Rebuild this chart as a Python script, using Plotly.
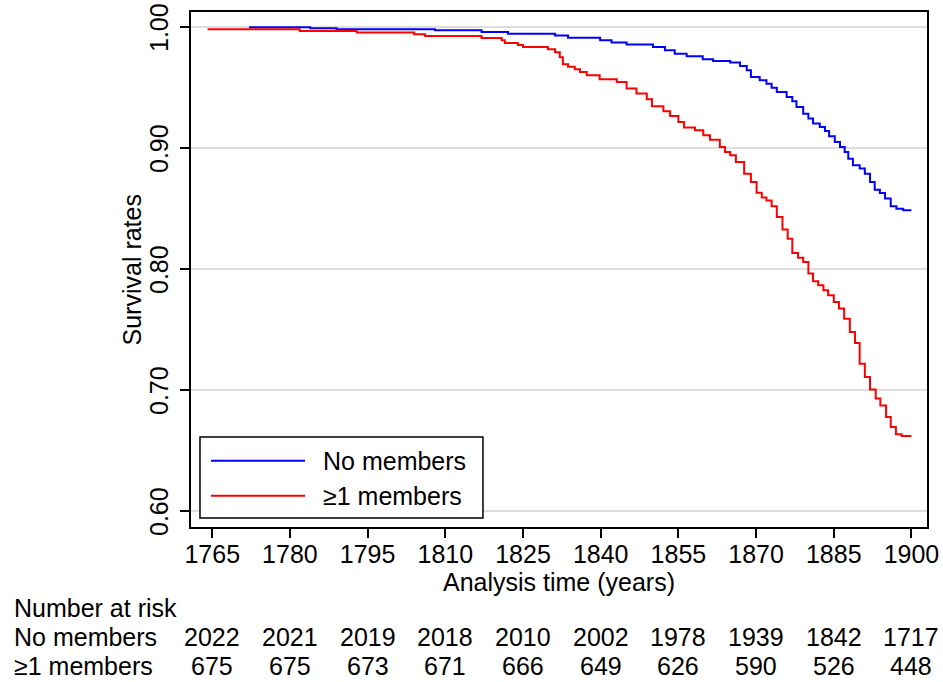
import plotly.graph_objects as go

# Kaplan-Meier steps (time, survival after the step)
NONE_TIME = [
    1772.1, 1783.9, 1789.0, 1808.0, 1817.0, 1822.1, 1831.2, 1833.7, 1839.9, 1842.1,
    1845.0, 1850.1, 1852.4, 1854.3, 1856.6, 1859.7, 1861.7, 1865.0, 1866.9, 1868.2,
    1869.0, 1870.7, 1872.0, 1873.0, 1874.0, 1875.9, 1877.0, 1877.8, 1879.1, 1880.1,
    1881.0, 1882.3, 1883.3, 1884.1, 1885.2, 1886.2, 1887.1, 1887.8, 1888.7, 1890.0,
    1891.0, 1892.0, 1892.9, 1893.9, 1894.9, 1896.0, 1897.1, 1898.4, 1900.0,
]
NONE_SURV = [
    0.9998, 0.9989, 0.9981, 0.9973, 0.9959, 0.9945, 0.9930, 0.9912, 0.9890, 0.9871,
    0.9855, 0.9835, 0.9807, 0.9780, 0.9758, 0.9733, 0.9719, 0.9706, 0.9678, 0.9642,
    0.9587, 0.9560, 0.9532, 0.9499, 0.9463, 0.9421, 0.9386, 0.9339, 0.9284, 0.9243,
    0.9202, 0.9174, 0.9140, 0.9097, 0.9050, 0.9008, 0.8967, 0.8912, 0.8857, 0.8830,
    0.8788, 0.8719, 0.8656, 0.8628, 0.8582, 0.8518, 0.8499, 0.8485, 0.8485,
]

ANY_TIME = [
    1764.1, 1781.9, 1792.9, 1804.0, 1806.1, 1817.0, 1820.9, 1821.5, 1824.0, 1825.0,
    1829.8, 1831.2, 1832.1, 1832.7, 1833.7, 1835.0, 1836.0, 1837.3, 1839.8, 1843.1,
    1845.0, 1846.9, 1848.9, 1849.9, 1852.1, 1853.4, 1855.0, 1856.1, 1858.2, 1859.8,
    1861.1, 1863.0, 1864.0, 1865.0, 1866.1, 1867.7, 1869.0, 1870.1, 1871.1, 1872.0,
    1873.0, 1874.0, 1875.1, 1876.1, 1877.0, 1878.1, 1879.1, 1880.1, 1881.0, 1882.0,
    1883.0, 1883.9, 1885.0, 1886.0, 1887.0, 1888.1, 1889.1, 1890.0, 1891.0, 1892.0,
    1893.1, 1894.0, 1895.1, 1896.0, 1897.0, 1898.1, 1900.0,
]
ANY_SURV = [
    0.9981, 0.9967, 0.9954, 0.9940, 0.9926, 0.9909, 0.9890, 0.9868, 0.9851, 0.9835,
    0.9816, 0.9791, 0.9750, 0.9692, 0.9671, 0.9650, 0.9628, 0.9601, 0.9568, 0.9545,
    0.9491, 0.9450, 0.9402, 0.9345, 0.9303, 0.9264, 0.9215, 0.9169, 0.9146, 0.9105,
    0.9069, 0.9008, 0.8967, 0.8940, 0.8884, 0.8788, 0.8719, 0.8630, 0.8590, 0.8567,
    0.8518, 0.8430, 0.8326, 0.8251, 0.8132, 0.8094, 0.8058, 0.7962, 0.7898, 0.7865,
    0.7824, 0.7783, 0.7727, 0.7673, 0.7590, 0.7479, 0.7388, 0.7218, 0.7107, 0.7005,
    0.6929, 0.6873, 0.6777, 0.6694, 0.6634, 0.6620, 0.6620,
]

# number-at-risk table
RISK_TIMES = [1765, 1780, 1795, 1810, 1825, 1840, 1855, 1870, 1885, 1900]
RISK_NONE = [2022, 2021, 2019, 2018, 2010, 2002, 1978, 1939, 1842, 1717]
RISK_ANY = [675, 675, 673, 671, 666, 649, 626, 590, 526, 448]

Y_TICKS = [0.6, 0.7, 0.8, 0.9, 1.0]
Y_LABELS = ["0.60", "0.70", "0.80", "0.90", "1.00"]

BLUE = "#0000FF"
RED = "#FF0000"
FONT = "Liberation Sans, Arial, sans-serif"
FS = 25

fig = go.Figure()
fig.add_trace(go.Scatter(x=NONE_TIME, y=NONE_SURV, mode="lines", line_shape="hv",
                         line=dict(color=BLUE, width=2), name="No members"))
fig.add_trace(go.Scatter(x=ANY_TIME, y=ANY_SURV, mode="lines", line_shape="hv",
                         line=dict(color=RED, width=2), name="≥1 members"))

fig.update_layout(
    width=943, height=682,
    margin=dict(l=191, r=16, t=12, b=155),
    plot_bgcolor="white", paper_bgcolor="white",
    font=dict(family=FONT, size=FS, color="black"),
    showlegend=False,
)
fig.update_xaxes(
    range=[1760.9, 1903.0], tickvals=RISK_TIMES, automargin=False,
    ticks="outside", ticklen=9, tickwidth=1.5, tickcolor="black", ticklabelstandoff=-5,
    showline=True, linecolor="black", linewidth=2, mirror=True,
    showgrid=False, zeroline=False,
    title=dict(text="Analysis time (years)", standoff=0, font=dict(size=FS)),
)
fig.update_yaxes(
    range=[0.5868, 1.0124], tickvals=Y_TICKS, showticklabels=False, automargin=False,
    ticks="outside", ticklen=9, tickwidth=1.5, tickcolor="black",
    showline=True, linecolor="black", linewidth=2, mirror=True,
    showgrid=True, gridcolor="#dedede", gridwidth=2, zeroline=False,
)

# vertical y tick labels as annotations (plotly pushes the top one off the page)
for v, lab in zip(Y_TICKS, Y_LABELS):
    fig.add_annotation(x=-0.0435, y=v, xref="paper", yref="y", text=lab, textangle=-90,
                       showarrow=False, xanchor="center", yanchor="middle")

# y title placed by hand, a bit closer to the tick labels than plotly's default
fig.add_annotation(x=-0.0802, y=0.5, xref="paper", yref="paper", text="Survival rates",
                   textangle=-90, showarrow=False, xanchor="center", yanchor="middle")

# legend drawn by hand so the line samples are long like the original
fig.add_shape(type="rect", xref="paper", yref="paper", x0=0.0122, x1=0.3967, y0=0.0175, y1=0.1748,
              line=dict(color="black", width=1.5), fillcolor="white", layer="above")
for yy, col, lab in [(0.1287, BLUE, "No members"), (0.0608, RED, "≥1 members")]:
    fig.add_shape(type="line", xref="paper", yref="paper", x0=0.0272, x1=0.1549, y0=yy, y1=yy,
                  line=dict(color=col, width=2), layer="above")
    fig.add_annotation(x=0.1766, y=yy, xref="paper", yref="paper", text=lab, showarrow=False,
                       xanchor="left", yanchor="middle")

# number at risk table
fig.add_annotation(x=-0.2432, y=-0.1573, xref="paper", yref="paper", text="Number at risk",
                   showarrow=False, xanchor="left", yanchor="middle")
for yy, lab, vals in [(-0.2135, "No members", RISK_NONE), (-0.2699, "≥1 members", RISK_ANY)]:
    fig.add_annotation(x=-0.2432, y=yy, xref="paper", yref="paper", text=lab,
                       showarrow=False, xanchor="left", yanchor="middle")
    for t, v in zip(RISK_TIMES, vals):
        fig.add_annotation(x=t, y=yy, xref="x", yref="paper", text=str(v),
                           showarrow=False, xanchor="center", yanchor="middle")

# page body has a default 8px margin; drop it so the figure fills the window
fig.write_html("out.html", config={"displayModeBar": False},
               post_script="document.body.style.margin='0';")
